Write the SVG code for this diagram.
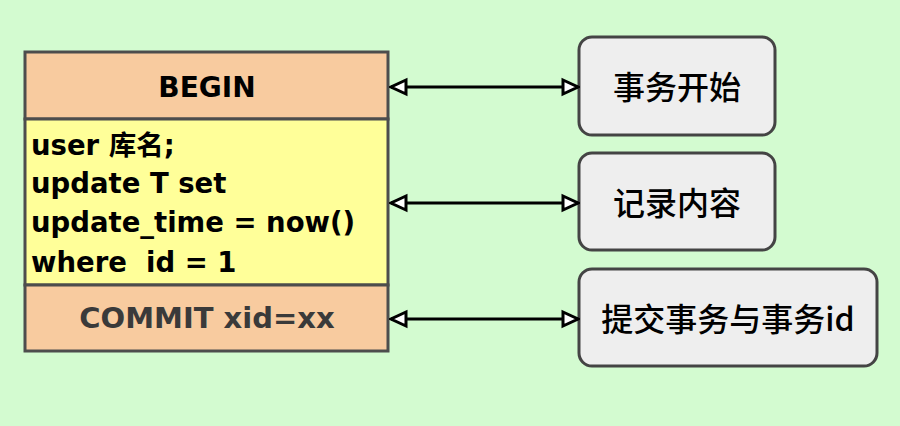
<svg xmlns="http://www.w3.org/2000/svg" width="900" height="426" viewBox="0 0 900 426">
<style>
.bg{fill:#d3fbd0}
.sec{stroke:#4d4d4d;stroke-width:3}
.hdr{fill:#f8cb9f}
.body{fill:#ffff99}
.rb{fill:#eeeeee;stroke:#444;stroke-width:3}
.t{font-family:"DejaVu Sans","Noto Sans CJK SC",sans-serif;font-weight:bold;fill:#000;white-space:pre}
.c{font-family:"Noto Sans CJK SC",sans-serif;font-size:32px;font-weight:500;fill:#000;text-anchor:middle}
.ln{stroke:#000;stroke-width:3;fill:none;marker-start:url(#ah);marker-end:url(#ah)}
</style>
<defs>
<marker id="ah" viewBox="0 0 20 20" refX="18" refY="10" markerWidth="20" markerHeight="20" markerUnits="userSpaceOnUse" orient="auto-start-reverse">
<path d="M3,3 L18,10 L3,17 Z" fill="#fff" stroke="#000" stroke-width="3" stroke-linejoin="miter"/>
</marker>
</defs>
<rect class="bg" x="0" y="0" width="900" height="426"/>
<g id="block">
<rect class="sec hdr" x="25" y="52" width="363" height="67"/>
<rect class="sec body" x="25" y="119" width="363" height="166"/>
<rect class="sec hdr" x="25" y="285" width="363" height="66"/>
<text class="t" x="207" y="97" font-size="28" text-anchor="middle">BEGIN</text>
<text class="t" x="31" y="155" font-size="27.5">user 库名;</text>
<text class="t" x="31" y="193" font-size="27.5">update T set</text>
<text class="t" x="31" y="232" font-size="27.5">update_time = now()</text>
<text class="t" x="31" y="272" font-size="27.5">where  id = 1</text>
<text class="t" x="207" y="328" font-size="29" text-anchor="middle" style="fill:#3a3a3a">COMMIT xid=xx</text>
</g>
<g id="n1">
<rect class="rb" x="579" y="37" width="196" height="98" rx="13"/>
<text class="c" x="677" y="99">事务开始</text>
</g>
<g id="n2">
<rect class="rb" x="579" y="153" width="196" height="97" rx="13"/>
<text class="c" x="677" y="215">记录内容</text>
</g>
<g id="n3">
<rect class="rb" x="579" y="269" width="298" height="97" rx="13"/>
<text class="c" x="728" y="331">提交事务与事务id</text>
</g>
<g id="connectors">
<line class="ln" x1="391" y1="87" x2="578" y2="87"/>
<line class="ln" x1="391" y1="203" x2="578" y2="203"/>
<line class="ln" x1="391" y1="319" x2="578" y2="319"/>
</g>
</svg>
